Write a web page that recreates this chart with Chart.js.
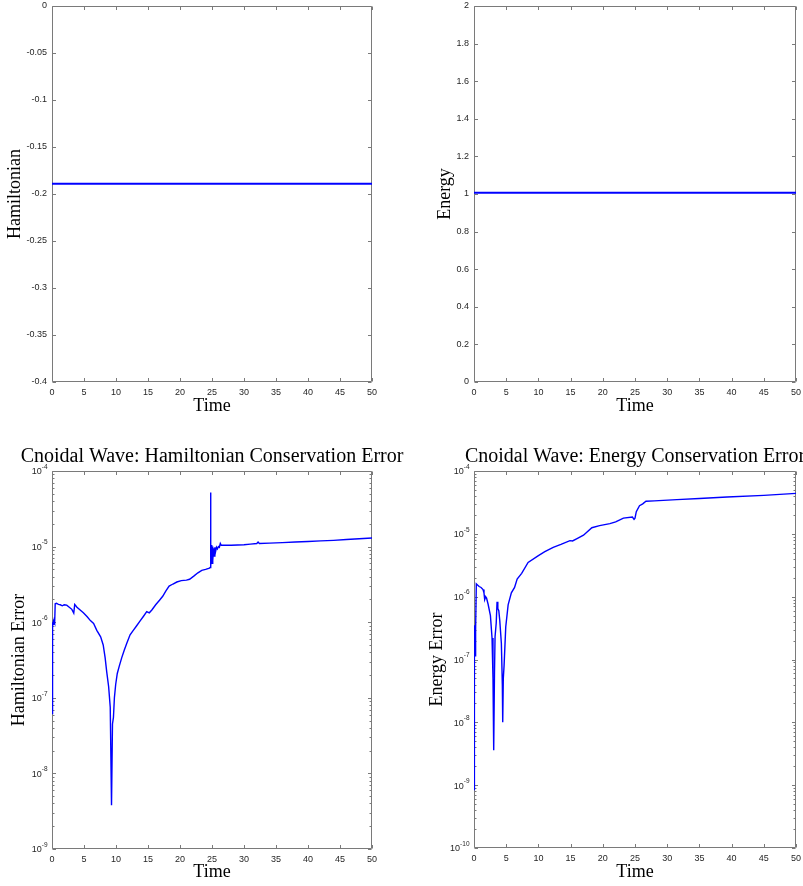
<!DOCTYPE html>
<html>
<head>
<meta charset="utf-8">
<script src="https://cdn.jsdelivr.net/npm/chart.js@4.4.1/dist/chart.umd.min.js"></script>
<style>
html,body{margin:0;padding:0;background:#fff;overflow:hidden;width:803px;height:886px;}
canvas{position:absolute;}
</style>
</head>
<body>
<canvas id="c1"></canvas>
<canvas id="c2"></canvas>
<canvas id="c3"></canvas>
<canvas id="c4"></canvas>
<script>
// ---------------- DATA ----------------
const timeTicks = [0,5,10,15,20,25,30,35,40,45,50];
const timeTickLabels = ['0','5','10','15','20','25','30','35','40','45','50'];

const hamTickValues = [-0.4,-0.35,-0.3,-0.25,-0.2,-0.15,-0.1,-0.05,0];
const hamTickLabels = ['-0.4','-0.35','-0.3','-0.25','-0.2','-0.15','-0.1','-0.05','0'];
const energyTickValues = [0,0.2,0.4,0.6,0.8,1,1.2,1.4,1.6,1.8,2];
const energyTickLabels = ['0','0.2','0.4','0.6','0.8','1','1.2','1.4','1.6','1.8','2'];
const hamErrTicks = [1e-9,1e-8,1e-7,1e-6,1e-5,1e-4];
const energyErrTicks = [1e-10,1e-9,1e-8,1e-7,1e-6,1e-5,1e-4];

const topTime = [0,10,20,30,40,50];
const hamValues = [-0.189,-0.189,-0.189,-0.189,-0.189,-0.189];
const energyValues = [1.006,1.006,1.006,1.006,1.006,1.006];

const hamErrTime = [0,0.03,0.06,0.10,0.15,0.20,0.28,0.35,0.42,0.50,0.70,1.00,1.30,1.60,1.90,2.30,2.70,3.10,3.40,3.55,3.90,4.40,4.90,5.50,6.00,6.50,7.00,7.60,8.00,8.30,8.55,8.85,9.10,9.30,9.45,9.60,9.75,9.95,10.2,10.5,10.9,11.3,11.7,12.2,12.7,13.2,13.8,14.3,14.8,15.2,15.6,16.2,16.8,17.3,17.8,18.3,18.9,19.5,20.2,21.0,21.5,22.2,22.8,23.4,24.0,24.6,24.72,24.76,24.80,24.84,24.90,24.96,25.02,25.08,25.15,25.25,25.35,25.45,25.55,25.70,25.85,26.00,26.15,26.30,26.45,27.0,28.0,29.0,30.0,31.0,32.0,32.2,32.4,34.0,36.0,38.0,40.0,42.0,44.0,46.0,48.0,50.0];
const hamErrValues = [6.2e-8,5e-7,9.0e-7,1.0e-6,8.8e-7,1.0e-6,9.2e-7,1.05e-6,1.0e-6,1.75e-6,1.78e-6,1.72e-6,1.70e-6,1.65e-6,1.70e-6,1.68e-6,1.58e-6,1.48e-6,1.32e-6,1.72e-6,1.58e-6,1.45e-6,1.33e-6,1.18e-6,1.05e-6,9.6e-7,7.8e-7,6.4e-7,5.0e-7,3.4e-7,2.2e-7,1.4e-7,7.5e-8,3.8e-9,4.5e-8,5.5e-8,1.0e-7,1.5e-7,2.1e-7,2.6e-7,3.4e-7,4.3e-7,5.3e-7,6.8e-7,7.8e-7,8.9e-7,1.05e-6,1.2e-6,1.38e-6,1.33e-6,1.45e-6,1.7e-6,1.95e-6,2.2e-6,2.6e-6,3.0e-6,3.2e-6,3.4e-6,3.55e-6,3.6e-6,3.7e-6,4.1e-6,4.5e-6,4.85e-6,5.0e-6,5.2e-6,5.3e-6,5.2e-5,2e-5,5.5e-6,8e-6,1.05e-5,6e-6,1.0e-5,6.5e-6,9.5e-6,7.5e-6,9.8e-6,8.5e-6,9.8e-6,9.3e-6,1.0e-5,9.8e-6,1.1e-5,1.04e-5,1.04e-5,1.04e-5,1.05e-5,1.06e-5,1.08e-5,1.1e-5,1.15e-5,1.1e-5,1.11e-5,1.13e-5,1.15e-5,1.17e-5,1.19e-5,1.21e-5,1.24e-5,1.27e-5,1.30e-5];

const energyErrTime = [0,0.03,0.06,0.10,0.16,0.22,0.28,0.36,0.50,0.80,1.10,1.40,1.55,1.66,1.80,1.95,2.20,2.55,2.80,2.95,3.06,3.18,3.27,3.45,3.58,3.70,3.85,4.00,4.25,4.40,4.46,4.55,4.67,4.93,5.30,5.80,6.30,6.70,7.40,8.40,10.0,11.0,12.3,13.5,14.9,15.3,16.0,17.0,18.3,19.5,21.1,22.0,23.2,24.6,24.85,25.0,25.2,25.7,26.2,26.7,28.0,31.5,35.0,39.3,45.0,50.0];
const energyErrValues = [8.5e-10,5e-8,3.5e-7,2.5e-7,1.15e-7,1.3e-7,3.0e-7,1.6e-6,1.55e-6,1.45e-6,1.4e-6,1.3e-6,1.15e-6,9.0e-7,1.0e-6,9.5e-7,7.5e-7,5.0e-7,2.2e-7,5e-8,3.6e-9,6e-8,2.3e-7,3.8e-7,8.3e-7,6.5e-7,6.0e-7,4.2e-7,1.8e-7,4e-8,1.0e-8,5e-8,8e-8,3.3e-7,7.4e-7,1.15e-6,1.4e-6,1.9e-6,2.35e-6,3.5e-6,4.5e-6,5.2e-6,6.1e-6,6.8e-6,7.8e-6,7.7e-6,8.4e-6,9.5e-6,1.25e-5,1.35e-5,1.45e-5,1.55e-5,1.78e-5,1.85e-5,1.7e-5,1.78e-5,2.25e-5,2.8e-5,3.0e-5,3.3e-5,3.35e-5,3.5e-5,3.65e-5,3.85e-5,4.1e-5,4.4e-5];

// ---------------- STYLE ----------------
const SERIF = "'Liberation Serif','Times New Roman',serif";
const SANS = "'Liberation Sans',Arial,sans-serif";
const TICK_COLOR = '#262626';
const AXIS_COLOR = '#7a7a7a';
const TICK_FONT = 9;
const TITLE_SIZE = 20;

const framePlugin = {
  id: 'frame',
  beforeDatasetsDraw(chart, args, o) {
    const ctx = chart.ctx;
    const {left, top, right, bottom} = chart.chartArea;
    const xs = chart.scales.x, ys = chart.scales.y;
    const L = Math.round(left) + 0.5, R = Math.round(right) - 0.5;
    const T = Math.round(top) + 0.5, B = Math.round(bottom) - 0.5;
    ctx.save();
    ctx.strokeStyle = AXIS_COLOR;
    ctx.lineWidth = 1;
    ctx.beginPath();
    ctx.rect(L, T, R - L, B - T);
    const maj = 3.5, mnr = 2;
    o.xTicks.forEach(v => {
      const p = Math.round(xs.getPixelForValue(v)) + 0.5;
      ctx.moveTo(p, B); ctx.lineTo(p, B - maj);
      ctx.moveTo(p, T); ctx.lineTo(p, T + maj);
    });
    o.yTicks.forEach(v => {
      const p = Math.round(ys.getPixelForValue(v)) + 0.5;
      ctx.moveTo(L, p); ctx.lineTo(L + maj, p);
      ctx.moveTo(R, p); ctx.lineTo(R - maj, p);
    });
    if (o.log) {
      for (let i = 0; i < o.yTicks.length - 1; i++) {
        for (let m = 2; m <= 9; m++) {
          const v = o.yTicks[i] * m;
          const p = Math.round(ys.getPixelForValue(v)) + 0.5;
          ctx.moveTo(L, p); ctx.lineTo(L + mnr, p);
          ctx.moveTo(R, p); ctx.lineTo(R - mnr, p);
        }
      }
    }
    ctx.stroke();
    if (o.log) {
      ctx.fillStyle = TICK_COLOR;
      ctx.textBaseline = 'middle';
      o.yTicks.forEach(v => {
        const p = ys.getPixelForValue(v);
        const e = String(Math.round(Math.log10(v)));
        ctx.font = '6.5px ' + SANS;
        const ew = ctx.measureText(e).width;
        const xr = left - 4.5;
        ctx.textAlign = 'left';
        ctx.fillText(e, xr - ew, p - 4);
        ctx.font = TICK_FONT + 'px ' + SANS;
        ctx.textAlign = 'right';
        ctx.fillText('10', xr - ew, p + 1);
      });
    }
    ctx.restore();
  }
};

function makePanel(id, rect, area, cfg) {
  const cv = document.getElementById(id);
  cv.width = rect.w; cv.height = rect.h;
  cv.style.left = rect.x + 'px'; cv.style.top = rect.y + 'px';
  cv.style.width = rect.w + 'px'; cv.style.height = rect.h + 'px';
  const titleH = cfg.title ? (TITLE_SIZE + cfg.title.pt + cfg.title.pb) : 0;
  const yWidth = area.L - rect.x;
  const rightWidth = rect.x + rect.w - area.R;
  const xHeight = rect.y + rect.h - area.B;
  const points = cfg.time.map((t, i) => ({x: t, y: cfg.values[i]}));
  const yScale = cfg.log ? {
    type: 'logarithmic', min: cfg.yTicks[0], max: cfg.yTicks[cfg.yTicks.length - 1],
    afterBuildTicks: s => { s.ticks = cfg.yTicks.map(v => ({value: v})); },
    ticks: {display: false},
  } : {
    type: 'linear', min: cfg.yTicks[0], max: cfg.yTicks[cfg.yTicks.length - 1],
    afterBuildTicks: s => { s.ticks = cfg.yTicks.map(v => ({value: v})); },
    ticks: {
      display: true, padding: 5, color: TICK_COLOR,
      font: {family: SANS, size: TICK_FONT},
      callback: (v) => { const k = cfg.yTicks.findIndex(t => Math.abs(t - v) < 1e-9); return k >= 0 ? cfg.yLabels[k] : ''; }
    }
  };
  Object.assign(yScale, {
    position: 'left',
    grid: {display: false, drawTicks: false},
    border: {display: false},
    afterFit: s => { s.width = yWidth; s.paddingTop = 0; s.paddingBottom = 0; },
    title: {display: true, text: cfg.yTitle, color: '#000', font: {family: SERIF, size: 18, lineHeight: 1}, padding: {top: cfg.yTitlePad, bottom: 0}}
  });
  return new Chart(cv, {
    type: 'line',
    data: {datasets: [{data: points, borderColor: '#0000ff', borderWidth: cfg.lw, pointRadius: 0, fill: false, tension: 0, yAxisID: 'y'}]},
    plugins: [framePlugin],
    options: {
      responsive: false, animation: false, devicePixelRatio: 1,
      layout: {padding: {left: 0, top: area.T - rect.y - titleH, right: 0, bottom: 0}},
      plugins: {
        legend: {display: false}, tooltip: {enabled: false},
        title: cfg.title ? {display: true, text: cfg.title.text, color: '#000', font: {family: SERIF, size: TITLE_SIZE, weight: 'normal', lineHeight: 1}, padding: {top: cfg.title.pt, bottom: cfg.title.pb}} : {display: false},
        frame: {xTicks: timeTicks, yTicks: cfg.yTicks, log: cfg.log}
      },
      scales: {
        x: {
          type: 'linear', min: 0, max: 50,
          afterBuildTicks: s => { s.ticks = timeTicks.map(v => ({value: v})); },
          ticks: {display: true, padding: 5, color: TICK_COLOR, maxRotation: 0, autoSkip: false,
            font: {family: SANS, size: TICK_FONT},
            callback: (v) => { const k = timeTicks.indexOf(v); return k >= 0 ? timeTickLabels[k] : ''; }},
          grid: {display: false, drawTicks: false},
          border: {display: false},
          afterFit: s => { s.height = xHeight; s.paddingLeft = 0; s.paddingRight = 0; },
          title: {display: true, text: 'Time', color: '#000', font: {family: SERIF, size: 18, lineHeight: 1}, padding: {top: 0, bottom: cfg.xTitlePad}}
        },
        y: yScale,
        spacer: {
          type: 'linear', position: 'right', display: true, min: 0, max: 1,
          ticks: {display: false}, grid: {display: false, drawTicks: false}, border: {display: false},
          title: {display: false},
          afterFit: s => { s.width = rightWidth; s.paddingTop = 0; s.paddingBottom = 0; }
        }
      }
    }
  });
}

makePanel('c1', {x: 0, y: 0, w: 401, h: 420}, {L: 52, R: 372, T: 6, B: 382},
  {time: topTime, values: hamValues, yTicks: hamTickValues, yLabels: hamTickLabels, log: false,
   yTitle: 'Hamiltonian', yTitlePad: 6, xTitlePad: 5, lw: 2});
makePanel('c2', {x: 401, y: 0, w: 410, h: 420}, {L: 474, R: 796, T: 6, B: 382},
  {time: topTime, values: energyValues, yTicks: energyTickValues, yLabels: energyTickLabels, log: false,
   yTitle: 'Energy', yTitlePad: 35, xTitlePad: 5, lw: 2});
makePanel('c3', {x: 0, y: 430, w: 424, h: 456}, {L: 52, R: 372, T: 471, B: 849},
  {time: hamErrTime, values: hamErrValues, yTicks: hamErrTicks, log: true,
   yTitle: 'Hamiltonian Error', yTitlePad: 10, xTitlePad: 5, lw: 1.4,
   title: {text: 'Cnoidal Wave: Hamiltonian Conservation Error', pt: 17, pb: 4}});
makePanel('c4', {x: 425, y: 430, w: 420, h: 456}, {L: 474, R: 796, T: 471, B: 848},
  {time: energyErrTime, values: energyErrValues, yTicks: energyErrTicks, log: true,
   yTitle: 'Energy Error', yTitlePad: 3, xTitlePad: 5, lw: 1.4,
   title: {text: 'Cnoidal Wave: Energy Conservation Error', pt: 17, pb: 4}});
</script>
</body>
</html>
